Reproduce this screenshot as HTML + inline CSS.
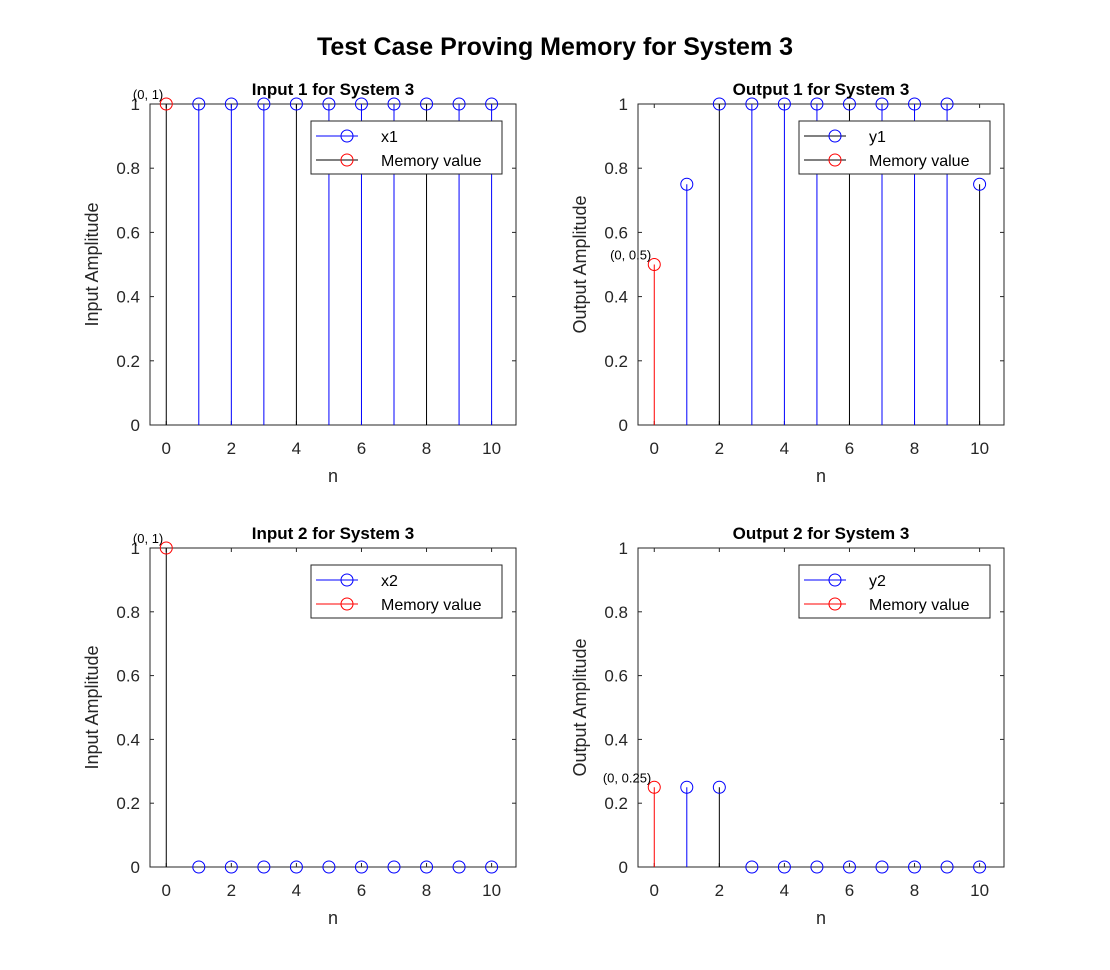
<!DOCTYPE html>
<html><head><meta charset="utf-8"><style>
body{margin:0;background:#fff;}
svg{display:block;font-family:"Liberation Sans",Arial,sans-serif;}
</style></head><body>
<svg id="fig" width="1110" height="970" viewBox="0 0 1110 970">
<rect width="1110" height="970" fill="#fff"/>
<text x="555" y="55" text-anchor="middle" font-size="25" font-weight="bold" fill="#000">Test Case Proving Memory for System 3</text>
</svg>
<script>
const nVals=[0,1,2,3,4,5,6,7,8,9,10];
const x1=[1,1,1,1,1,1,1,1,1,1,1];
const y1=[0.5,0.75,1,1,1,1,1,1,1,1,0.75];
const x2=[1,0,0,0,0,0,0,0,0,0,0];
const y2=[0.25,0.25,0.25,0,0,0,0,0,0,0,0];
const xTicks=[0,2,4,6,8,10];
const yTicks=[0,0.2,0.4,0.6,0.8,1];
const yTickLabels=["0","0.2","0.4","0.6","0.8","1"];
const stemColors1=["#000","#00f","#00f","#00f","#000","#00f","#00f","#00f","#000","#00f","#00f"];
const stemColors2=["#000","#00f","#000","#00f","#00f","#00f","#000","#00f","#00f","#00f","#000"];
const panels=[
 {L:150,R:516,T:104,B:425,title:"Input 1 for System 3",ylab:"Input Amplitude",data:x1,leg:"x1",ann:"(0, 1)",sc:stemColors1},
 {L:638,R:1004,T:104,B:425,title:"Output 1 for System 3",ylab:"Output Amplitude",data:y1,leg:"y1",ann:"(0, 0.5)",sc:stemColors2},
 {L:150,R:516,T:548,B:867,title:"Input 2 for System 3",ylab:"Input Amplitude",data:x2,leg:"x2",ann:"(0, 1)",sc:stemColors1},
 {L:638,R:1004,T:548,B:867,title:"Output 2 for System 3",ylab:"Output Amplitude",data:y2,leg:"y2",ann:"(0, 0.25)",sc:stemColors2}
];
const svg=document.getElementById('fig');
const NS="http://www.w3.org/2000/svg";
function mk(tag,attrs,parent,text){const e=document.createElementNS(NS,tag);for(const k in attrs)e.setAttribute(k,attrs[k]);if(text!==undefined)e.textContent=text;(parent||svg).appendChild(e);return e;}
panels.forEach((p,i)=>{
 const g=mk('g',{});
 
 
 const unit=(p.R-p.L)/11.25;
 const xs=v=>p.L+(v+0.5)*unit;
 const ys=v=>p.B-v*(p.B-p.T);
 const box=mk('rect',{x:p.L,y:p.T,width:p.R-p.L,height:p.B-p.T,fill:'#fff',stroke:'#262626','stroke-width':1},g);
 
 
 xTicks.forEach(t=>{
  mk('line',{x1:xs(t),x2:xs(t),y1:p.B,y2:p.B-4,stroke:'#262626'},g);
  mk('line',{x1:xs(t),x2:xs(t),y1:p.T,y2:p.T+4,stroke:'#262626'},g);
  const tl=mk('text',{x:xs(t),y:p.B+29,'text-anchor':'middle','font-size':17,fill:'#262626'},g,String(t));
  
  
 });
 yTicks.forEach((t,j)=>{
  mk('line',{x1:p.L,x2:p.L+4,y1:ys(t),y2:ys(t),stroke:'#262626'},g);
  mk('line',{x1:p.R,x2:p.R-4,y1:ys(t),y2:ys(t),stroke:'#262626'},g);
  const tl=mk('text',{x:p.L-10,y:ys(t)+6,'text-anchor':'end','font-size':17,fill:'#262626'},g,yTickLabels[j]);
  
  
 });
 nVals.forEach((n,k)=>{
  const v=p.data[k];
  const red=k===0;
  const ln=mk('line',{x1:xs(n),x2:xs(n),y1:ys(0),y2:ys(v),stroke:red?(i%2? '#f00':'#000'):p.sc[k],'stroke-width':1},g);
  
  
  const c=mk('circle',{cx:xs(n),cy:ys(v),r:6,fill:'none',stroke:red?'#f00':'#00f','stroke-width':1},g);
  
  
 });
 const an=mk('text',{x:xs(0)-3,y:ys(p.data[0])-5,'text-anchor':'end','font-size':13,fill:'#000'},g,p.ann);
 
 
 const tt=mk('text',{x:(p.L+p.R)/2,y:p.T-9,'text-anchor':'middle','font-size':17,'font-weight':'bold',fill:'#000'},g,p.title);
 
 
 const xl=mk('text',{x:(p.L+p.R)/2,y:p.B+57,'text-anchor':'middle','font-size':18,fill:'#262626'},g,'n');
 
 
 const cy=(p.T+p.B)/2;
 const yl=mk('text',{x:p.L-52,y:cy,'text-anchor':'middle','font-size':18,fill:'#262626',transform:`rotate(-90 ${p.L-52} ${cy})`},g,p.ylab);
 
 
 const lx=p.R-205,ly=p.T+17;
 const lg=mk('g',{},g);
 
 
 mk('rect',{x:lx,y:ly,width:191,height:53,fill:'#fff',stroke:'#262626'},lg);
 const rows=[[p.leg,'#00f',i===1?'#000':'#00f'],['Memory value','#f00',i===2||i===3?'#f00':'#000']];
 rows.forEach((r,j)=>{
  const yy=ly+15+j*24;
  mk('line',{x1:lx+5,x2:lx+47,y1:yy,y2:yy,stroke:r[2]},lg);
  mk('circle',{cx:lx+36,cy:yy,r:6,fill:'none',stroke:r[1]},lg);
  const t=mk('text',{x:lx+70,y:yy+6,'font-size':16,fill:'#000'},lg,r[0]);
  
  
 });
});
</script>
</body></html>
